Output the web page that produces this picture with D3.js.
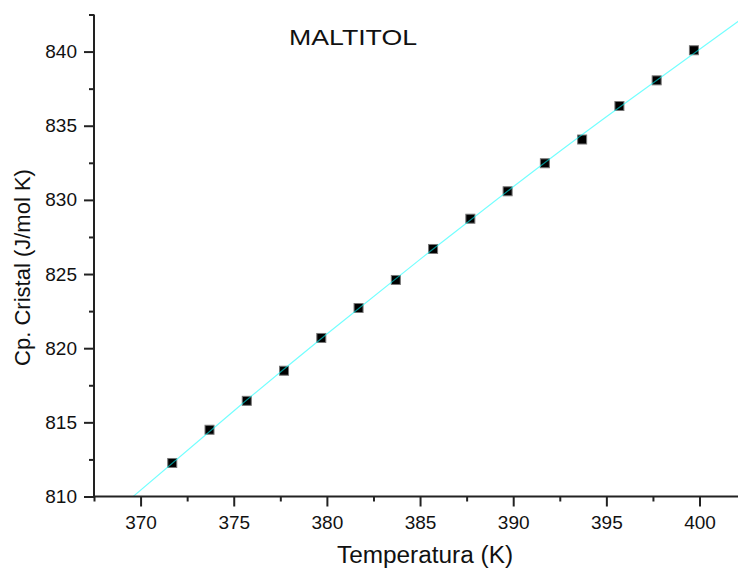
<!DOCTYPE html>
<html>
<head>
<meta charset="utf-8">
<script src="https://cdn.jsdelivr.net/npm/d3@7"></script>
<style>
html,body{margin:0;padding:0;background:#fff;}
svg{display:block;}
text{font-family:Arial,"Liberation Sans",Helvetica,sans-serif;fill:#111;}
</style>
</head>
<body>
<svg id="chart" width="738" height="569"></svg>
<script>
// Data: measured points
const temperature = [371.7, 373.7, 375.7, 377.7, 379.7, 381.7, 383.7, 385.7, 387.7, 389.7, 391.7, 393.7, 395.7, 397.7, 399.7];
const cpCristal  = [812.26, 814.50, 816.45, 818.48, 820.69, 822.71, 824.60, 826.69, 828.73, 830.58, 832.47, 834.07, 836.33, 838.06, 840.09];
const fitX = [369.59, 375, 380, 385, 390, 395, 402.1];
const fitY = [809.99, 815.77, 820.96, 825.99, 830.88, 835.60, 842.06];
const xTicks = [370, 375, 380, 385, 390, 395, 400];
const xMinorTicks = [367.5, 372.5, 377.5, 382.5, 387.5, 392.5, 397.5];
const yTicks = [810, 815, 820, 825, 830, 835, 840];
const yMinorTicks = [812.5, 817.5, 822.5, 827.5, 832.5, 837.5, 842.5];
const title = "MALTITOL";
const xLabel = "Temperatura (K)";
const yLabel = "Cp. Cristal (J/mol K)";

const svg = d3.select("#chart");
const x = d3.scaleLinear().domain([367.5, 402.5]).range([94, 746.1]);
const y = d3.scaleLinear().domain([810, 842.5]).range([496.5, 14.5]);

const axisColor = "#222";

svg.append("clipPath").attr("id","clip").append("rect")
  .attr("x", x(367.5)).attr("y", y(842.5)).attr("width", 738 - x(367.5)).attr("height", y(810) - y(842.5));

// markers
svg.append("g").selectAll("rect").data(temperature).join("rect")
  .attr("x", (d) => x(d) - 4.5)
  .attr("y", (d, i) => y(cpCristal[i]) - 4.5)
  .attr("width", 9).attr("height", 9)
  .attr("fill", "#000").attr("stroke", "#777").attr("stroke-width", 1);

// fit curve
svg.append("path")
  .attr("clip-path","url(#clip)")
  .datum(fitX.map((d, i) => [d, fitY[i]]))
  .attr("d", d3.line().curve(d3.curveNatural).x(d => x(d[0])).y(d => y(d[1])))
  .attr("fill", "none").attr("stroke", "#00ffff").attr("stroke-opacity", 0.55).attr("stroke-width", 1.2);

// X axis
const gx = svg.append("g").attr("transform", `translate(0,${y(810)})`);
gx.call(d3.axisBottom(x).tickValues(xTicks).tickSize(10).tickPadding(8).tickFormat(d3.format("d")));
gx.append("g").call(d3.axisBottom(x).tickValues(xMinorTicks).tickSize(5).tickFormat(""));
gx.selectAll(".domain").remove();
gx.append("line").attr("x1", x(367.5) - 1).attr("x2", 738).attr("stroke", axisColor).attr("stroke-width", 2);
gx.selectAll(".tick line").attr("stroke", axisColor).attr("stroke-width", 2);
gx.selectAll(".tick text").attr("font-size", 19).attr("fill", "#111").attr("dy", "0.76em");

// Y axis
const gy = svg.append("g").attr("transform", `translate(${x(367.5)},0)`);
gy.call(d3.axisLeft(y).tickValues(yTicks).tickSize(10).tickPadding(7).tickFormat(d3.format("d")));
gy.append("g").call(d3.axisLeft(y).tickValues(yMinorTicks).tickSize(5).tickFormat(""));
gy.selectAll(".domain").remove();
gy.append("line").attr("y1", y(842.5)).attr("y2", y(810) + 1).attr("stroke", axisColor).attr("stroke-width", 2);
gy.selectAll(".tick line").attr("stroke", axisColor).attr("stroke-width", 2);
gy.selectAll(".tick text").attr("font-size", 19).attr("fill", "#111");
svg.selectAll(".tick text").attr("font-family", "Arial, 'Liberation Sans', sans-serif");

// Title
svg.append("text").attr("x", 289).attr("y", 44.5).attr("font-size", 22)
  .attr("textLength", 128).attr("lengthAdjust", "spacingAndGlyphs").text(title);

// Axis labels
svg.append("text").attr("x", 337).attr("y", 562.5)
  .attr("font-size", 23).attr("textLength", 176).attr("lengthAdjust", "spacingAndGlyphs").text(xLabel);
svg.append("text").attr("transform", "translate(29.5,267.5) rotate(-90)")
  .attr("text-anchor", "middle").attr("font-size", 22).text(yLabel);
</script>
</body>
</html>
